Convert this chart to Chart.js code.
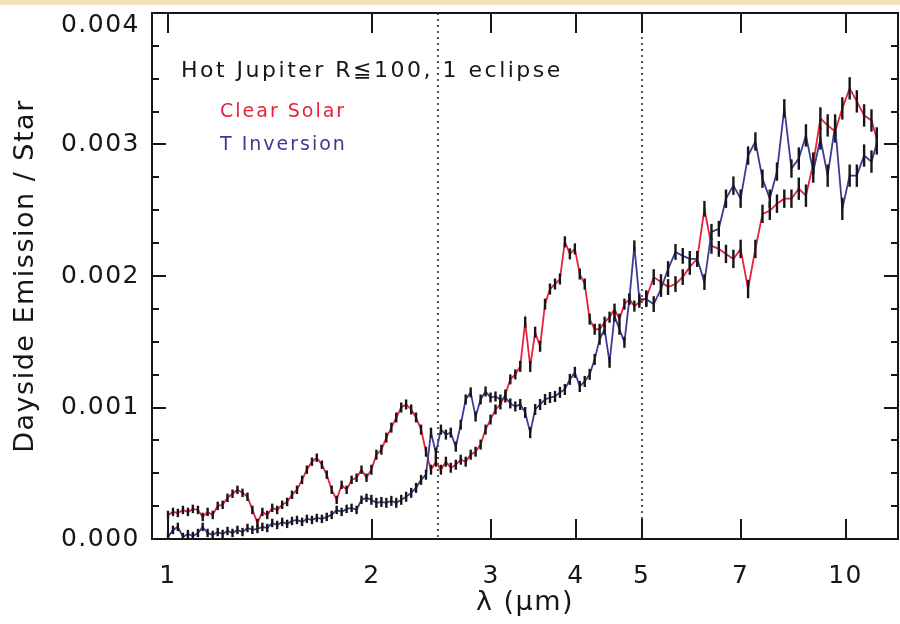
<!DOCTYPE html>
<html><head><meta charset="utf-8">
<script src="https://cdn.jsdelivr.net/npm/chart.js@4.4.1/dist/chart.umd.min.js"></script>
<style>html,body{margin:0;padding:0;background:#fff}#wrap{width:900px;height:624px}</style>
</head><body><div id="wrap"><canvas id="c" width="900" height="624"></canvas></div>
<script>
// values stored in units of 1e-4 (Dayside Emission / Star)
const UNIT = 1e-4;
const wavelength = [
1.000,1.017,1.034,1.052,1.070,1.088,1.107,1.125,1.144,1.164,
1.184,1.204,1.224,1.245,1.266,1.288,1.310,1.332,1.355,1.378,
1.401,1.425,1.449,1.474,1.499,1.524,1.550,1.577,1.603,1.631,
1.658,1.687,1.715,1.744,1.774,1.804,1.835,1.866,1.898,1.930,
1.963,1.996,2.030,2.065,2.100,2.136,2.172,2.209,2.246,2.285,
2.323,2.363,2.403,2.444,2.485,2.528,2.571,2.614,2.659,2.704,
2.750,2.797,2.844,2.893,2.942,2.992,3.043,3.094,3.147,3.200,
3.255,3.310,3.366,3.424,3.482,3.541,3.601,3.662,3.725,3.788,
3.852,3.918,3.985,4.052,4.121,4.191,4.263,4.335,4.409,4.484,
4.560,4.637,4.716,4.796,4.878,4.961,
5.08,5.21,5.34,5.47,5.61,5.75,5.89,6.04,6.19,6.34,
6.50,6.66,6.83,7.00,7.18,7.36,7.54,7.73,7.92,8.12,
8.32,8.53,8.74,8.96,9.18,9.41,9.65,9.89,10.14,10.39,
10.65,10.92,11.12];
const clearSolar = [
1.83,2.06,1.98,2.21,2.06,2.29,2.21,1.68,2.06,1.83,
2.52,2.60,3.13,3.44,3.74,3.51,3.21,2.21,1.22,2.06,
1.83,2.37,2.21,2.60,2.82,3.36,3.74,4.50,5.27,5.88,
6.18,5.65,4.89,3.74,2.98,4.12,3.74,4.50,4.66,5.27,
4.66,5.27,6.41,6.79,7.71,8.47,9.24,10.0,10.23,9.85,
9.24,8.32,6.64,5.27,5.88,5.27,5.88,5.42,5.65,6.03,
5.88,6.41,6.64,7.18,8.32,9.08,9.85,10.23,10.99,12.14,
12.52,13.13,16.49,13.13,15.73,14.66,17.86,19.01,19.39,19.77,
22.60,21.68,22.06,20.15,19.39,16.72,15.95,15.95,16.49,16.87,
17.48,16.72,17.86,18.24,17.71,18.0,
18.32,19.92,19.54,19.16,19.39,19.92,20.69,21.30,25.11,22.29,
22.06,21.68,21.30,22.06,19.01,22.06,24.73,24.96,25.50,25.88,
25.88,26.64,26.11,28.55,31.98,31.45,30.99,32.75,34.27,33.28,
32.21,31.83,30.46];
const tInversion = [
0.15,0.69,0.92,0.15,0.38,0.23,0.46,0.92,0.46,0.31,
0.53,0.38,0.61,0.46,0.69,0.53,0.84,0.69,0.76,0.92,
0.84,1.22,1.07,1.30,1.15,1.37,1.45,1.30,1.53,1.45,
1.60,1.53,1.68,1.83,2.21,2.06,2.29,2.37,2.21,2.98,
3.13,2.98,2.75,2.82,2.75,2.90,2.75,2.98,3.21,3.51,
3.89,4.50,4.89,8.09,6.56,8.32,7.94,8.09,7.02,8.70,
10.61,11.15,9.31,10.61,11.22,10.76,10.84,10.61,10.76,10.31,
10.08,10.23,9.62,8.09,9.85,10.23,10.61,10.76,10.84,11.15,
11.37,12.14,12.67,11.60,11.98,12.52,13.66,15.19,15.95,13.44,
16.95,15.95,14.96,18.24,22.29,18.24,
18.24,17.86,19.01,20.53,21.83,21.53,21.30,21.30,19.54,23.36,
23.59,25.88,26.87,25.88,29.16,30.23,27.40,25.88,27.94,32.75,
28.17,28.93,30.69,27.94,30.46,27.63,31.45,25.11,27.63,27.63,
29.16,28.70,30.08];
const errorBar = [
0.32,0.32,0.32,0.32,0.32,0.32,0.32,0.32,0.32,0.32,
0.32,0.32,0.32,0.32,0.32,0.32,0.32,0.32,0.32,0.32,
0.32,0.32,0.32,0.32,0.32,0.32,0.32,0.32,0.32,0.32,
0.32,0.32,0.32,0.32,0.32,0.32,0.32,0.32,0.32,0.32,
0.32,0.38,0.38,0.38,0.38,0.38,0.38,0.38,0.38,0.38,
0.38,0.38,0.38,0.38,0.38,0.38,0.38,0.38,0.38,0.38,
0.38,0.38,0.38,0.38,0.38,0.38,0.38,0.38,0.38,0.38,
0.38,0.42,0.42,0.42,0.42,0.42,0.42,0.42,0.42,0.42,
0.42,0.42,0.42,0.42,0.42,0.42,0.42,0.42,0.42,0.42,
0.42,0.42,0.42,0.42,0.42,0.42,
0.6,0.6,0.6,0.6,0.6,0.6,0.6,0.6,0.6,0.6,
0.6,0.7,0.7,0.7,0.7,0.7,0.7,0.7,0.7,0.7,
0.7,0.85,0.85,0.85,0.85,0.85,0.85,0.85,0.85,0.85,
0.85,0.85,0.85];
const xTickValues = [1,2,3,4,5,7,10];
const dottedAt = [2.5,5];
const yMajorStep = 0.001, yMinorStep = 0.00025, yMax = 0.004;
const seriesNames = ['Clear Solar','T Inversion'];
const titleText = 'Hot Jupiter R\u2266100, 1 eclipse';

const FONT = 'DejaVu Sans';
const RED = '#e8223c', BLUE = '#3b3b94', INK = '#161616';

function pts(arr){ return wavelength.map((w,i)=>({x:w, y:arr[i]*UNIT})); }
function noPad(s){ s.paddingTop = 0; s.paddingBottom = 0; s.paddingLeft = 0; s.paddingRight = 0; }

const deco = {
  id:'deco',
  beforeDraw(chart){
    const c = chart.ctx;
    c.save();
    c.fillStyle = '#ffffff'; c.fillRect(0,0,chart.width,chart.height);
    c.fillStyle = '#f1e1bb'; c.fillRect(0,0,chart.width,5);
    c.restore();
    c.letterSpacing = '1.5px';
  },
  beforeDatasetsDraw(chart){
    const c = chart.ctx, a = chart.chartArea, xs = chart.scales.x;
    c.save();
    c.strokeStyle = '#555'; c.lineWidth = 2; c.setLineDash([2,4]);
    dottedAt.forEach(v=>{
      const px = Math.round(xs.getPixelForValue(v));
      c.beginPath(); c.moveTo(px, a.top); c.lineTo(px, a.bottom); c.stroke();
    });
    c.restore();
  },
  afterDatasetDraw(chart, args){
    const c = chart.ctx, ys = chart.scales.y, a = chart.chartArea;
    const src = args.index === 0 ? clearSolar : tInversion;
    c.save();
    c.beginPath(); c.rect(a.left, a.top, a.right-a.left, a.bottom-a.top); c.clip();
    c.strokeStyle = INK; c.lineWidth = 2.4;
    args.meta.data.forEach((p,i)=>{
      const v = src[i]*UNIT, e = errorBar[i]*UNIT;
      c.beginPath();
      c.moveTo(p.x, ys.getPixelForValue(v+e));
      c.lineTo(p.x, ys.getPixelForValue(v-e));
      c.stroke();
    });
    c.restore();
  },
  afterDraw(chart){
    const c = chart.ctx, a = chart.chartArea, xs = chart.scales.x, ys = chart.scales.y;
    c.save();
    c.strokeStyle = INK; c.lineWidth = 2;
    c.strokeRect(a.left, a.top, a.right-a.left, a.bottom-a.top);
    c.beginPath();
    for (let v = 0; v <= ys.max + 1e-9; v += yMinorStep){
      const py = Math.round(ys.getPixelForValue(v));
      const major = Math.abs(v/yMajorStep - Math.round(v/yMajorStep)) < 1e-6;
      const L = major ? 14 : 7;
      c.moveTo(a.left, py); c.lineTo(a.left+L, py);
      c.moveTo(a.right, py); c.lineTo(a.right-L, py);
    }
    xTickValues.forEach(v=>{
      const px = Math.round(xs.getPixelForValue(v));
      c.moveTo(px, a.bottom); c.lineTo(px, a.bottom-20);
      c.moveTo(px, a.top); c.lineTo(px, a.top+20);
    });
    c.stroke();
    c.textBaseline = 'middle'; c.textAlign = 'left';
    c.letterSpacing = '2.5px';
    c.fillStyle = INK; c.font = '22px "'+FONT+'"';
    c.fillText(titleText, 181, 71);
    c.letterSpacing = '2px';
    c.font = '19px "'+FONT+'"';
    c.fillStyle = RED; c.fillText(seriesNames[0], 220, 112);
    c.fillStyle = BLUE; c.fillText(seriesNames[1], 220, 145);
    c.restore();
  }
};

new Chart(document.getElementById('c'), {
  type:'line',
  data:{ datasets:[
    {label:seriesNames[0], data:pts(clearSolar), borderColor:RED, borderWidth:1.8, pointRadius:0, tension:0, order:1},
    {label:seriesNames[1], data:pts(tInversion), borderColor:BLUE, borderWidth:1.8, pointRadius:0, tension:0, order:0}
  ]},
  options:{
    responsive:false, animation:false, devicePixelRatio:1,
    layout:{padding:{top:13,right:2,left:0,bottom:0}},
    plugins:{legend:{display:false}, tooltip:{enabled:false}},
    scales:{
      x:{type:'logarithmic', min:0.947, max:11.95,
        grid:{display:false, drawTicks:false}, border:{display:false},
        afterBuildTicks(s){ s.ticks = xTickValues.map(v=>({value:v})); },
        ticks:{autoSkip:false, maxRotation:0, padding:22, color:INK, font:{family:FONT,size:25}, callback:(v)=>String(v)},
        title:{display:true, text:'\u03bb (\u03bcm)', color:INK, font:{family:FONT,size:27}, padding:{top:0,bottom:5}},
        afterFit(s){ s.height = 85; noPad(s); }
      },
      y:{min:0, max:yMax,
        grid:{display:false, drawTicks:false}, border:{display:false},
        ticks:{stepSize:yMajorStep, padding:12, color:INK, font:{family:FONT,size:25,lineHeight:1.0},
          callback:(v)=> Math.abs(v-yMax) < 1e-9 ? ['', v.toFixed(3)] : v.toFixed(3)},
        title:{display:true, text:'Dayside Emission / Star', color:INK, font:{family:FONT,size:27}, padding:{top:10,bottom:0}},
        afterFit(s){ s.width = 152; noPad(s); }
      }
    }
  },
  plugins:[deco]
});
</script></body></html>
